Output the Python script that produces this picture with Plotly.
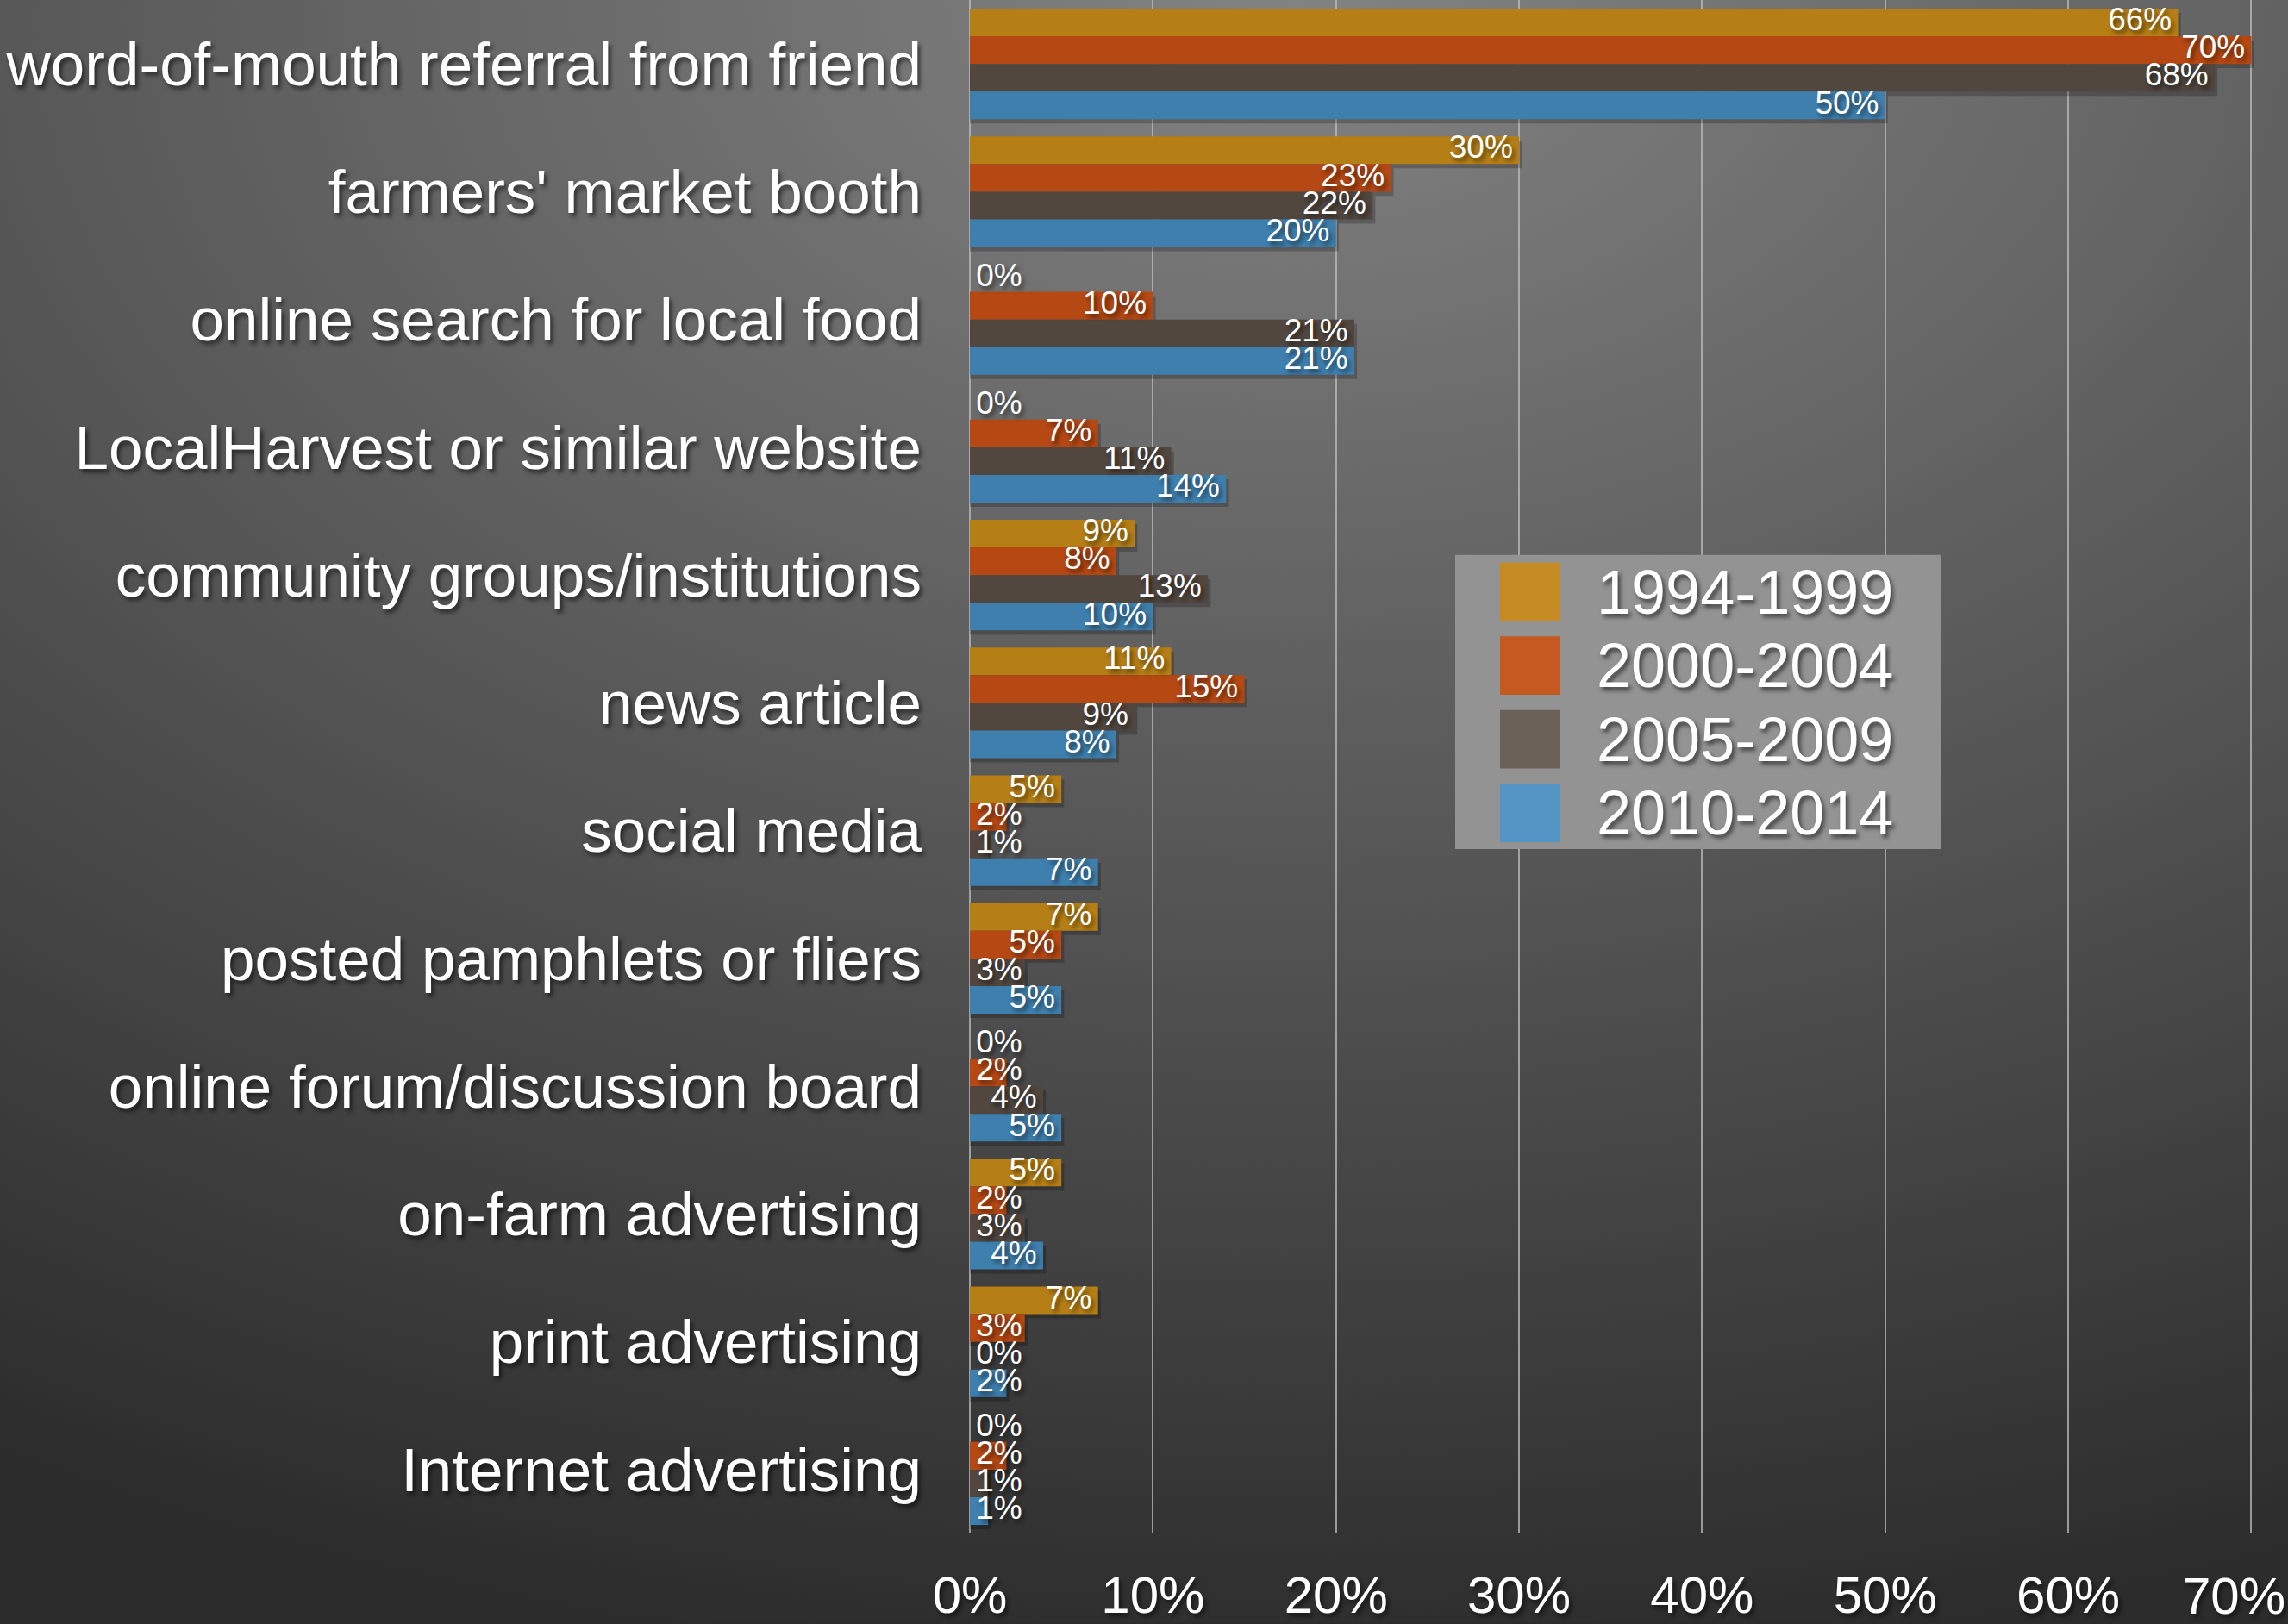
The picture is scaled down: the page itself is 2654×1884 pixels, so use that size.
import base64
import plotly.graph_objects as go

# Where customers first heard about the farm, share of responses by joining period
categories = [
    "word-of-mouth referral from friend",
    "farmers' market booth",
    "online search for local food",
    "LocalHarvest or similar website",
    "community groups/institutions",
    "news article",
    "social media",
    "posted pamphlets or fliers",
    "online forum/discussion board",
    "on-farm advertising",
    "print advertising",
    "Internet advertising",
]
periods = ["1994-1999", "2000-2004", "2005-2009", "2010-2014"]

share_1994_1999 = [66, 30, 0, 0, 9, 11, 5, 7, 0, 5, 7, 0]
share_2000_2004 = [70, 23, 10, 7, 8, 15, 2, 5, 2, 2, 3, 2]
share_2005_2009 = [68, 22, 21, 11, 13, 9, 1, 3, 4, 3, 0, 1]
share_2010_2014 = [50, 20, 21, 14, 10, 8, 7, 5, 5, 4, 2, 1]
series = [share_1994_1999, share_2000_2004, share_2005_2009, share_2010_2014]

x_ticks = [0, 10, 20, 30, 40, 50, 60, 70]
x_tick_text = [f"{t}%" for t in x_ticks]

bar_colors = ["#b67f15", "#b54813", "#51473f", "#3e7fae"]
key_colors = ["#c68a22", "#c55a20", "#6b6158", "#5595c5"]

FONT = "Liberation Sans, Arial, Helvetica, sans-serif"
SHADOW = "3px 4px 5px rgba(0,0,0,0.55)"

W, H = 2654, 1884
M_L, M_R, M_T, M_B = 1125, 40, 0, 96
PW, PH = W - M_L - M_R, H - M_T - M_B

bargap = 0.134
bar_w = (1 - bargap) / len(series)
shadow_dy = 5 / (PH / len(categories))  # a few pixels in category units

fig = go.Figure()

for i, vals in enumerate(series):
    ypos = [k + (i - (len(series) - 1) / 2) * bar_w for k in range(len(categories))]
    # soft drop shadow under each bar
    fig.add_trace(go.Bar(
        x=[v + 0.15 if v > 0 else 0 for v in vals], y=[y + shadow_dy for y in ypos],
        orientation="h", width=bar_w,
        marker=dict(color="rgba(0,0,0,0.22)", line=dict(width=0)),
        showlegend=False, hoverinfo="skip",
    ))
    fig.add_trace(go.Bar(
        x=vals, y=ypos, orientation="h", width=bar_w,
        marker=dict(color=bar_colors[i], line=dict(width=0)),
        name=periods[i], showlegend=False, hoverinfo="skip",
    ))
    # value labels: right-aligned at the bar end, or starting at the axis for short bars
    tx = [v if v >= 4 else 0 for v in vals]
    tp = ["middle left" if v >= 4 else "middle right" for v in vals]
    fig.add_trace(go.Scatter(
        x=tx, y=ypos, mode="text+markers",
        marker=dict(size=10, color="rgba(0,0,0,0)"),
        text=[f"{v}%" for v in vals], textposition=tp,
        textfont=dict(family=FONT, size=37, color="white", shadow=SHADOW),
        showlegend=False, hoverinfo="skip", cliponaxis=False,
    ))


def px_x(p):
    return (p - M_L) / PW


def px_y(p):
    return 1 - (p - M_T) / PH


# background: soft radial light falling off towards the edges
svg = (
    f'<svg xmlns="http://www.w3.org/2000/svg" width="{W}" height="{H}" viewBox="0 0 {W} {H}" '
    'preserveAspectRatio="none"><defs>'
    '<radialGradient id="g" gradientUnits="userSpaceOnUse" cx="0" cy="0" r="1" '
    'gradientTransform="translate(1500 0) scale(3000 1950)">'
    '<stop offset="0" stop-color="#838383"/><stop offset="1" stop-color="#2c2c2c"/>'
    '</radialGradient></defs>'
    f'<rect width="{W}" height="{H}" fill="url(#g)"/></svg>'
)
bg_src = "data:image/svg+xml;base64," + base64.b64encode(svg.encode()).decode()

shapes = []
annotations = []

# key box
shapes.append(dict(type="rect", xref="paper", yref="paper",
                   x0=px_x(1688), x1=px_x(2251), y0=px_y(990), y1=px_y(647),
                   fillcolor="#939393", line=dict(width=0), layer="above"))
row_centers = [690, 776, 862, 948]
for i, name in enumerate(periods):
    cy = row_centers[i]
    shapes.append(dict(type="rect", xref="paper", yref="paper",
                       x0=px_x(1740), x1=px_x(1810), y0=px_y(cy + 34), y1=px_y(cy - 34),
                       fillcolor=key_colors[i], line=dict(width=0), layer="above"))
    annotations.append(dict(xref="paper", yref="paper", x=px_x(1850), y=px_y(cy),
                            xanchor="left", yanchor="middle", text=name, showarrow=False,
                            font=dict(family=FONT, size=72, color="white", shadow=SHADOW)))

# the last tick label sits against the page edge, so it is pinned inside the page
annotations.append(dict(xref="paper", yref="paper", x=px_x(W - 1), y=px_y(1861),
                        xanchor="right", yanchor="middle", text=x_tick_text[-1],
                        showarrow=False,
                        font=dict(family=FONT, size=60, color="white", shadow=SHADOW)))

fig.update_layout(
    width=W, height=H,
    margin=dict(l=M_L, r=M_R, t=M_T, b=M_B, pad=0),
    paper_bgcolor="#2c2c2c",
    plot_bgcolor="rgba(0,0,0,0)",
    barmode="overlay",
    showlegend=False,
    font=dict(family=FONT, color="white"),
    images=[dict(source=bg_src, xref="paper", yref="paper",
                 x=px_x(0), y=px_y(0), sizex=(W + 4) / PW, sizey=(H + 8) / PH,
                 xanchor="left", yanchor="top", sizing="stretch", layer="below")],
    shapes=shapes,
    annotations=annotations,
    xaxis=dict(
        range=[0, 70.12], tickvals=x_ticks, ticktext=x_tick_text[:-1] + [""],
        showgrid=True, gridcolor="rgba(190,190,190,0.75)", gridwidth=2,
        zeroline=True, zerolinecolor="rgba(190,190,190,0.75)", zerolinewidth=2,
        showline=False, ticks="", ticklabelstandoff=31,
        tickfont=dict(family=FONT, size=60, color="white", shadow=SHADOW),
    ),
    yaxis=dict(
        range=[len(categories) - 0.5, -0.5],
        tickvals=list(range(len(categories))), ticktext=categories,
        showgrid=False, zeroline=False, showline=False, ticks="",
        ticklabelstandoff=55,
        tickfont=dict(family=FONT, size=71, color="white", shadow=SHADOW),
    ),
)

# keep the page itself free of margins and scrollbars
page_js = "document.body.style.margin='0';document.body.style.overflow='hidden';"
fig.write_html("out.html", post_script=page_js)
